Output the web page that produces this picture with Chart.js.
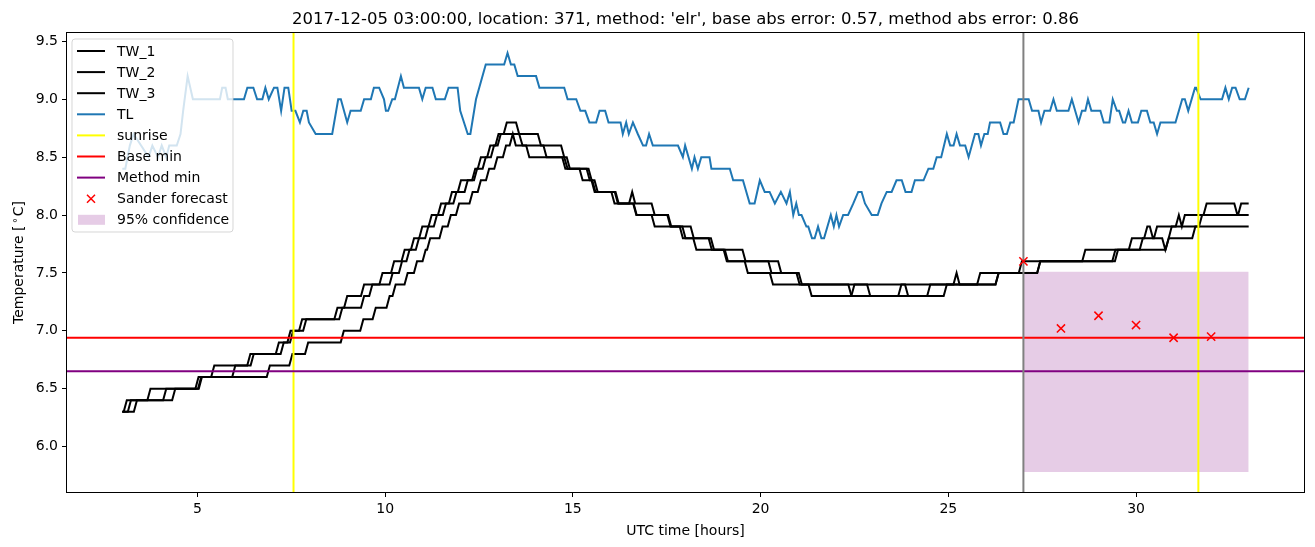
<!DOCTYPE html>
<html>
<head>
<meta charset="utf-8">
<title>Sander forecast 2017-12-05 location 371</title>
<script src="https://cdn.jsdelivr.net/npm/chart.js@4.4.0/dist/chart.umd.min.js"></script>
<style>
  html, body { margin: 0; background: #fff; }
  canvas { display: block; }
</style>
</head>
<body>
<canvas id="chartArea" width="1315" height="547"></canvas>
<script>
// readings taken off the plot: [hour, temperature]
// TL: every visible vertex of the blue line
const tlPoints = [
  [3.0,8.4],[3.08,8.4],[3.2,8.6],[3.3,8.7],[3.5,8.6],[3.7,8.5],[3.8,8.6],[3.95,8.5],[4.05,8.6],[4.17,8.5],
  [4.25,8.6],[4.45,8.6],[4.55,8.7],[4.62,8.9],[4.74,9.2],[4.88,9.0],[5.6,9.0],[5.66,9.1],[5.75,9.1],[5.81,9.0],
  [6.24,9.0],[6.33,9.1],[6.49,9.1],[6.59,9.0],[6.73,9.0],[6.81,9.1],[6.9,9.0],[7.04,9.1],[7.13,9.1],[7.23,8.9],
  [7.32,9.1],[7.42,9.1],[7.51,8.9],[7.61,8.9],[7.73,8.8],[7.82,8.9],[7.91,8.9],[7.97,8.8],[8.15,8.7],[8.59,8.7],
  [8.75,9.0],[8.82,9.0],[8.99,8.8],[9.08,8.9],[9.35,8.9],[9.44,9.0],[9.62,9.0],[9.7,9.1],[9.84,9.1],[9.97,9.0],
  [10.02,8.9],[10.08,8.9],[10.19,9.0],[10.26,9.0],[10.42,9.2],[10.5,9.1],[10.9,9.1],[10.99,9.0],[11.08,9.1],[11.26,9.1],
  [11.35,9.0],[11.59,9.0],[11.69,9.1],[11.93,9.1],[12.0,8.9],[12.2,8.7],[12.27,8.7],[12.42,9.0],[12.68,9.3],[13.17,9.3],
  [13.26,9.4],[13.35,9.3],[13.44,9.3],[13.53,9.2],[14.02,9.2],[14.11,9.1],[14.77,9.1],[14.86,9.0],[15.09,9.0],[15.2,8.9],
  [15.33,8.9],[15.44,8.8],[15.62,8.8],[15.71,8.9],[15.86,8.9],[15.95,8.8],[16.27,8.8],[16.33,8.7],[16.42,8.8],[16.49,8.7],
  [16.6,8.8],[16.73,8.7],[16.87,8.6],[16.95,8.6],[17.03,8.7],[17.13,8.6],[17.8,8.6],[17.93,8.5],[17.99,8.6],[18.17,8.4],
  [18.24,8.5],[18.33,8.4],[18.42,8.5],[18.64,8.5],[18.69,8.4],[19.18,8.4],[19.27,8.3],[19.53,8.3],[19.71,8.1],[19.84,8.1],
  [19.98,8.3],[20.11,8.2],[20.24,8.2],[20.38,8.1],[20.54,8.2],[20.69,8.1],[20.78,8.2],[20.87,8.0],[20.95,8.1],[21.02,8.0],
  [21.09,8.0],[21.22,7.9],[21.27,7.9],[21.37,7.8],[21.44,7.8],[21.53,7.9],[21.62,7.8],[21.69,7.8],[21.87,8.0],[21.95,7.9],
  [22.02,8.0],[22.09,7.9],[22.2,8.0],[22.33,8.0],[22.47,8.1],[22.6,8.2],[22.69,8.2],[22.78,8.1],[22.96,8.0],[23.12,8.0],
  [23.22,8.1],[23.36,8.2],[23.49,8.2],[23.62,8.3],[23.76,8.3],[23.86,8.2],[24.02,8.2],[24.11,8.3],[24.34,8.3],[24.47,8.4],
  [24.6,8.4],[24.69,8.5],[24.81,8.5],[24.96,8.7],[25.05,8.6],[25.14,8.6],[25.22,8.7],[25.31,8.6],[25.45,8.6],[25.54,8.5],
  [25.71,8.7],[25.8,8.7],[25.87,8.6],[25.96,8.7],[26.05,8.7],[26.11,8.8],[26.38,8.8],[26.47,8.7],[26.56,8.7],[26.65,8.8],
  [26.74,8.8],[26.87,9.0],[27.14,9.0],[27.23,8.9],[27.4,8.9],[27.47,8.8],[27.56,8.9],[27.71,8.9],[27.8,9.0],[27.89,8.9],
  [28.2,8.9],[28.29,9.0],[28.47,8.8],[28.56,8.9],[28.65,8.9],[28.72,9.0],[28.81,8.9],[29.05,8.9],[29.14,8.8],[29.29,8.8],
  [29.38,9.0],[29.49,8.9],[29.55,8.9],[29.65,8.8],[29.71,8.8],[29.8,8.9],[29.89,8.8],[30.05,8.8],[30.14,8.9],[30.29,8.9],
  [30.38,8.8],[30.47,8.8],[30.56,8.7],[30.65,8.8],[31.05,8.8],[31.23,9.0],[31.3,9.0],[31.39,8.9],[31.57,9.1],[31.6,9.1],
  [31.72,9.0],[32.29,9.0],[32.38,9.1],[32.47,9.0],[32.56,9.1],[32.65,9.1],[32.76,9.0],[32.9,9.0],[33.0,9.1]
];

// TW sensors change in 0.1 steps: [hour the new value is first seen, value]
const tw1Steps = [
  [3.0,6.3],[3.12,6.4],[3.75,6.5],[5.03,6.6],[5.45,6.7],[6.41,6.8],[7.17,6.9],[7.48,7.0],[7.79,7.1],[8.73,7.2],
  [8.99,7.3],[9.44,7.4],[9.93,7.5],[10.24,7.6],[10.52,7.7],[10.77,7.8],[10.99,7.9],[11.24,8.0],[11.49,8.1],[11.78,8.2],
  [12.02,8.3],[12.4,8.4],[12.55,8.5],[12.8,8.6],[13.02,8.7],[13.24,8.8],[13.57,8.7],[13.66,8.6],[14.77,8.5],[14.86,8.4],
  [15.26,8.3],[15.58,8.2],[16.11,8.1],[16.69,8.0],[17.18,7.9],[17.93,7.8],[18.29,7.7],[19.13,7.6],[19.66,7.5],[20.33,7.4],
  [23.93,7.3],[24.52,7.4],[25.85,7.5],[26.96,7.6],[28.65,7.7],[29.89,7.8],[30.3,7.9],[30.45,7.8],[30.56,7.9],[31.14,8.0],
  [31.22,7.9],[31.3,8.0],[31.88,8.1],[32.7,8.0],[32.8,8.1]
];
const tw2Steps = [
  [3.0,6.3],[3.23,6.4],[4.17,6.5],[5.12,6.6],[6.01,6.7],[6.5,6.8],[7.3,6.9],[7.55,7.0],[7.9,7.1],[8.86,7.2],
  [9.44,7.3],[9.66,7.4],[10.2,7.5],[10.45,7.6],[10.65,7.7],[10.9,7.8],[11.15,7.9],[11.38,8.0],[11.62,8.1],[11.9,8.2],
  [12.2,8.3],[12.45,8.4],[12.68,8.5],[12.9,8.6],[13.08,8.7],[14.15,8.6],[14.3,8.5],[14.92,8.4],[15.5,8.3],[15.66,8.2],
  [16.22,8.1],[16.58,8.2],[16.66,8.1],[17.18,8.0],[17.62,7.9],[18.22,7.8],[18.76,7.7],[19.6,7.6],[20.55,7.5],[21.1,7.4],
  [22.42,7.3],[23.75,7.4],[25.22,7.5],[25.3,7.4],[26.34,7.5],[27.45,7.6],[29.45,7.7],[30.18,7.8],[30.78,7.7],[30.87,7.8],
  [30.95,7.9],[31.76,8.0]
];
const tw3Steps = [
  [3.0,6.3],[3.39,6.4],[4.41,6.5],[5.1,6.6],[6.93,6.7],[7.53,6.8],[7.95,6.9],[8.9,7.0],[9.42,7.1],[9.75,7.2],
  [10.12,7.3],[10.28,7.4],[10.6,7.5],[10.85,7.6],[11.08,7.7],[11.2,7.8],[11.53,7.9],[11.75,8.0],[11.97,8.1],[12.33,8.2],
  [12.55,8.3],[12.77,8.4],[12.99,8.5],[13.22,8.6],[13.4,8.7],[13.48,8.6],[13.84,8.5],[14.8,8.4],[15.45,8.3],[15.6,8.2],
  [16.2,8.1],[16.7,8.0],[17.6,7.9],[18.0,7.8],[18.7,7.7],[19.1,7.6],[20.29,7.5],[21.04,7.4],[21.36,7.3],[22.5,7.4],
  [22.92,7.3],[24.96,7.4],[26.34,7.5],[27.45,7.6],[29.52,7.7],[30.87,7.8],[31.58,7.9]
];
const seriesEnd = 33.0;
const sampleStep = 5 / 60; // sensors report every 5 minutes

const sunriseHours = [7.56, 31.66];
const forecastStartHour = 27;
const baseMin = 6.94;
const methodMin = 6.65;

const forecastHours = [27, 28, 29, 30, 31, 32];
const forecastTemp = [7.6, 7.02, 7.13, 7.05, 6.94, 6.95];

const confHours = [27, 33];
const confLow = 5.78;
const confHigh = 7.51;

const xTicks = [5, 10, 15, 20, 25, 30];
const yTicks = [6.0, 6.5, 7.0, 7.5, 8.0, 8.5, 9.0, 9.5];

const titleText = "2017-12-05 03:00:00, location: 371, method: 'elr', base abs error: 0.57, method abs error: 0.86";

// axis limits the way matplotlib picks them: data range plus 5% each side
const allX = tlPoints.map(p => p[0]).concat(confHours);
const allY = tlPoints.map(p => p[1]).concat([confLow, confHigh]);
const xLo = Math.min(...allX), xHi = Math.max(...allX);
const yLo = Math.min(...allY), yHi = Math.max(...allY);
const xMin = xLo - 0.05 * (xHi - xLo), xMax = xHi + 0.05 * (xHi - xLo);
const yMin = yLo - 0.05 * (yHi - yLo), yMax = yHi + 0.05 * (yHi - yLo);

function stepLine(steps) {
    const pts = [];
    steps.forEach((s, i) => {
        if (i > 0) {
            const prev = steps[i - 1];
            pts.push({ x: Math.max(s[0] - sampleStep, prev[0]), y: prev[1] });
        }
        pts.push({ x: s[0], y: s[1] });
    });
    pts.push({ x: seriesEnd, y: steps[steps.length - 1][1] });
    return pts;
}

const FONT = "'DejaVu Sans', sans-serif";

function lineSet(label, data, color, kind) {
    return {
        label: label, data: data, borderColor: color, backgroundColor: color,
        borderWidth: 2, pointRadius: 0, tension: 0, fill: false, legendKind: kind
    };
}

// matplotlib order: patches (zorder 1) under all lines
const datasets = [
    {
        label: '95% confidence',
        data: confHours.map(h => ({ x: h, y: confHigh })),
        borderWidth: 0, pointRadius: 0, borderColor: 'rgba(0,0,0,0)',
        backgroundColor: 'rgba(128,0,128,0.2)',
        fill: { value: confLow }, legendKind: 'patch'
    },
    lineSet('TW_1', stepLine(tw1Steps), '#000000', 'line'),
    lineSet('TW_2', stepLine(tw2Steps), '#000000', 'line'),
    lineSet('TW_3', stepLine(tw3Steps), '#000000', 'line'),
    lineSet('TL', tlPoints.map(p => ({ x: p[0], y: p[1] })), '#1f77b4', 'line'),
    lineSet('sunrise', [{ x: sunriseHours[0], y: yMin }, { x: sunriseHours[0], y: yMax }], '#ffff00', 'line'),
    lineSet('', [{ x: sunriseHours[1], y: yMin }, { x: sunriseHours[1], y: yMax }], '#ffff00', null),
    lineSet('Base min', [{ x: xMin, y: baseMin }, { x: xMax, y: baseMin }], '#ff0000', 'line'),
    lineSet('Method min', [{ x: xMin, y: methodMin }, { x: xMax, y: methodMin }], '#800080', 'line'),
    lineSet('', [{ x: forecastStartHour, y: yMin }, { x: forecastStartHour, y: yMax }], '#808080', null),
    {
        label: 'Sander forecast',
        data: forecastHours.map((h, i) => ({ x: h, y: forecastTemp[i] })),
        showLine: false, pointStyle: 'crossRot', pointRadius: 5.8, pointHoverRadius: 5.8,
        borderColor: '#ff0000', backgroundColor: '#ff0000', pointBorderWidth: 1.5, borderWidth: 1.5,
        legendKind: 'marker'
    }
];
// later datasets must be painted on top
datasets.forEach((d, i) => { d.order = datasets.length - i; });

const legendOrder = ['TW_1', 'TW_2', 'TW_3', 'TL', 'sunrise', 'Base min', 'Method min', 'Sander forecast', '95% confidence'];

const decorations = {
    id: 'decorations',
    afterDatasetsDraw(chart) {
        const ctx = chart.ctx;
        const a = chart.chartArea;
        ctx.save();

        // legend, upper left inside the axes
        const bx = a.left + 6, by = a.top + 7, bw = 161, bh = 193, r = 3;
        ctx.beginPath();
        ctx.roundRect(bx, by, bw, bh, r);
        ctx.fillStyle = 'rgba(255,255,255,0.8)';
        ctx.fill();
        ctx.strokeStyle = 'rgba(204,204,204,0.8)';
        ctx.lineWidth = 1;
        ctx.stroke();

        ctx.font = '14px ' + FONT;
        ctx.textBaseline = 'middle';
        ctx.textAlign = 'left';
        legendOrder.forEach((name, i) => {
            const ds = chart.data.datasets.find(d => d.label === name);
            const y = by + 12 + i * 21.1;
            const x0 = bx + 5, x1 = bx + 33;
            if (ds.legendKind === 'line') {
                ctx.beginPath();
                ctx.moveTo(x0, y);
                ctx.lineTo(x1, y);
                ctx.strokeStyle = ds.borderColor;
                ctx.lineWidth = 2;
                ctx.stroke();
            } else if (ds.legendKind === 'marker') {
                const cx = (x0 + x1) / 2, s = 4;
                ctx.beginPath();
                ctx.moveTo(cx - s, y - s); ctx.lineTo(cx + s, y + s);
                ctx.moveTo(cx - s, y + s); ctx.lineTo(cx + s, y - s);
                ctx.strokeStyle = ds.borderColor;
                ctx.lineWidth = 1.5;
                ctx.stroke();
            } else {
                ctx.fillStyle = ds.backgroundColor;
                ctx.fillRect(x0 + 1, y - 5, x1 - x0 - 1, 10);
            }
            ctx.fillStyle = '#000';
            ctx.fillText(name, bx + 45, y + 1);
        });

        // frame around the axes
        ctx.strokeStyle = '#000';
        ctx.lineWidth = 1;
        ctx.strokeRect(a.left + 0.5, a.top + 0.5, a.right - a.left - 1, a.bottom - a.top - 1);

        // title and axis labels
        ctx.fillStyle = '#000';
        ctx.textAlign = 'center';
        ctx.textBaseline = 'alphabetic';
        ctx.font = '16.5px ' + FONT;
        ctx.fillText(titleText, (a.left + a.right) / 2, 24);

        ctx.font = '14px ' + FONT;
        ctx.fillText('UTC time [hours]', (a.left + a.right) / 2, 535);

        ctx.translate(23, (a.top + a.bottom) / 2);
        ctx.rotate(-Math.PI / 2);
        const partA = 'Temperature [', partB = '\u2218', partC = 'C]';
        ctx.font = '14px ' + FONT;
        const wA = ctx.measureText(partA).width, wC = ctx.measureText(partC).width;
        ctx.font = '10px ' + FONT;
        const wB = ctx.measureText(partB).width + 3;
        const start = -(wA + wB + wC) / 2;
        ctx.textAlign = 'left';
        ctx.font = '14px ' + FONT;
        ctx.fillText(partA, start, 0);
        ctx.font = '10px ' + FONT;
        ctx.fillText(partB, start + wA + 2, -5);
        ctx.font = '14px ' + FONT;
        ctx.fillText(partC, start + wA + wB, 0);
        ctx.restore();
    }
};

const config = {
    type: 'line',
    data: { datasets: datasets },
    options: {
        responsive: false,
        animation: false,
        devicePixelRatio: 1,
        layout: { padding: { left: 0, right: 10, top: 32, bottom: 0 } },
        plugins: { legend: { display: false }, title: { display: false }, tooltip: { enabled: false } },
        scales: {
            x: {
                type: 'linear', min: xMin, max: xMax,
                afterBuildTicks: axis => { axis.ticks = xTicks.map(v => ({ value: v })); },
                afterFit: axis => { axis.height = 54; },
                grid: { drawOnChartArea: false, drawTicks: true, tickLength: 4, color: '#000' },
                border: { display: false },
                ticks: { color: '#000', font: { family: FONT, size: 14 }, padding: 4, maxRotation: 0 }
            },
            y: {
                type: 'linear', min: yMin, max: yMax,
                afterBuildTicks: axis => { axis.ticks = yTicks.map(v => ({ value: v })); },
                afterFit: axis => { axis.width = 66; },
                grid: { drawOnChartArea: false, drawTicks: true, tickLength: 4, color: '#000' },
                border: { display: false },
                ticks: { color: '#000', font: { family: FONT, size: 14 }, padding: 4, callback: v => v.toFixed(1) }
            }
        }
    },
    plugins: [decorations]
};

new Chart(document.getElementById('chartArea'), config);
</script>
</body>
</html>
